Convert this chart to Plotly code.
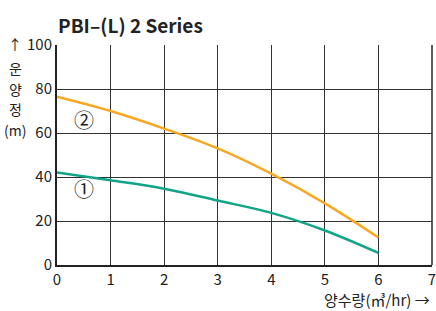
import plotly.graph_objects as go

flow = [0, 1, 2, 3, 4, 5, 6]
head_2 = [76.5, 70, 62, 53, 41.5, 28, 12.5]
head_1 = [42, 38.5, 34.7, 29.3, 23.7, 15.7, 5.5]
y_ticks = [0, 20, 40, 60, 80, 100]
x_ticks = [0, 1, 2, 3, 4, 5, 6, 7]
y_title_chars = ["운", "양", "정", "(m)"]

FONT = "Noto Sans CJK KR"
W, H = 436, 311
L, R, T, B = 57, 4, 45, 46

fig = go.Figure()
fig.add_trace(go.Scatter(x=flow, y=head_2, mode="lines", line=dict(color="#F7A823", width=2.5, shape="spline"), hoverinfo="skip"))
fig.add_trace(go.Scatter(x=flow, y=head_1, mode="lines", line=dict(color="#12A487", width=2.5, shape="spline"), hoverinfo="skip"))

fig.update_layout(
    width=W, height=H,
    margin=dict(l=L, r=R, t=T, b=B, autoexpand=False),
    paper_bgcolor="white", plot_bgcolor="white",
    showlegend=False,
    font=dict(family=FONT, color="#222", size=14),
    xaxis=dict(range=[0, 7], tickvals=x_ticks, showgrid=True, gridcolor="#333", gridwidth=1.4,
               showline=True, linecolor="#222", linewidth=2, zeroline=False, automargin=False,
               ticks="", ticklen=0, tickfont=dict(size=15), fixedrange=True, ticklabeloverflow="allow"),
    yaxis=dict(range=[0, 100], tickvals=y_ticks, showgrid=True, gridcolor="#333", gridwidth=1.4,
               showline=True, linecolor="#222", linewidth=2, zeroline=False, automargin=False,
               ticks="", ticklen=0, tickfont=dict(size=15), fixedrange=True, ticklabeloverflow="allow"),
    shapes=[dict(type="line", xref="x domain", yref="y domain", x0=1, x1=1, y0=0, y1=1,
                 line=dict(color="#333", width=1.6))],
)

fig.add_annotation(text="<b>PBI–(L) 2 Series</b>", xref="paper", yref="paper", x=-0.003, y=1.0,
                   yshift=5, xanchor="left", yanchor="bottom", showarrow=False,
                   font=dict(size=19, family=FONT, color="#222"))
fig.add_annotation(text="↑", xref="x domain", yref="y domain", x=0, y=1, xshift=-42, yshift=1,
                   xanchor="center", yanchor="middle", showarrow=False,
                   font=dict(size=14, family=FONT, color="#222"))
for i, ch in enumerate(y_title_chars):
    fig.add_annotation(text=ch, xref="x domain", yref="y domain", x=0, y=1, xshift=-42,
                       yshift=-23 - i * 20.5, xanchor="center", yanchor="middle", showarrow=False,
                       font=dict(size=14, family=FONT, color="#222"))
fig.add_annotation(text="양수량(㎥/hr) →", xref="x domain", yref="y domain", x=1, y=0, yshift=-22,
                   xanchor="right", yanchor="top", showarrow=False,
                   font=dict(size=15, family=FONT, color="#222"))
fig.add_annotation(text="②", x=0.5, y=66, showarrow=False, font=dict(size=20, family=FONT, color="#222"))
fig.add_annotation(text="①", x=0.5, y=35, showarrow=False, font=dict(size=20, family=FONT, color="#222"))

fig.write_html("out.html", config={"displayModeBar": False},
               post_script="document.body.style.margin='0';document.body.style.overflow='hidden';")
